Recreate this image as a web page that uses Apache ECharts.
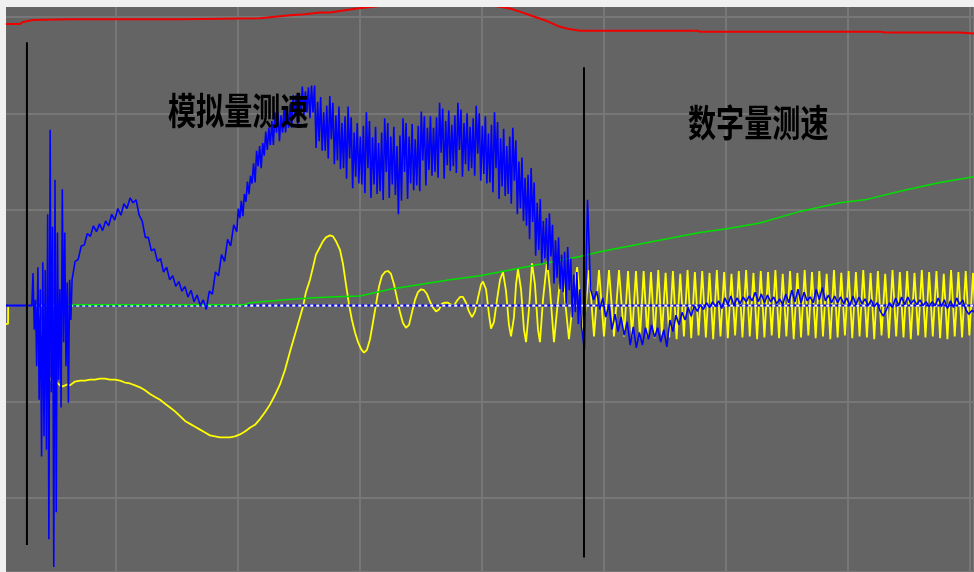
<!DOCTYPE html>
<html>
<head>
    <meta charset="utf-8">
    <style type="text/css">
        html,body { margin: 0px; padding: 0px; background: #f0f0f0; overflow: hidden; }
        #canvas { width: 974px; height: 572px; }
    </style>
    <script src="https://cdn.jsdelivr.net/npm/echarts@6/dist/echarts.min.js"></script>
</head>
<body>
    <div id="canvas"></div>
    <script type="text/javascript">
        // 波形数据 x: 采样时间(每格100)  y: 幅值(每格100)
        var blueIdle = [[0, 0], [31, 0]];
        var blueBurstStart = 32, blueBurstStep = 1;
        var blueBurst = [34, -25, 6, -63, 40, -98, 17, -157, 45, -136, 37, -150, 95, -243, 183, -90,
            82, -272, 131, -215, 76, -77, 17, -106, 121, -38, 76, -63, 24, -101, 27, -15];
        var blueHumpStart = 64, blueHumpStep = 2.5;
        var blueHump = [27, 46, 48, 62, 63, 75, 72, 83, 77, 85, 78, 88, 83, 95, 89, 101, 94, 106, 101, 112,
            107, 110, 94, 88, 71, 71, 57, 59, 46, 49, 35, 40, 27, 31, 20, 25, 15, 20, 9, 16,
            4, 11, 0, 6, -4, 15, 12, 35, 31, 53, 46, 69, 62, 84, 77];
        var blueBandStart = 200.25, blueBandStep = 1.25;
        var blueBand = [
            101, 91, 109, 93, 116, 108, 129, 116, 135, 127,
            148, 128, 161, 145, 166, 143, 169, 156, 181, 162,
            185, 167, 192, 167, 201, 180, 201, 171, 198, 180,
            206, 180, 203, 185, 210, 185, 219, 199, 219, 189,
            221, 200, 228, 198, 223, 201, 227, 195, 229, 201,
            229, 164, 212, 171, 217, 161, 201, 161, 208, 153,
            218, 173, 211, 147, 198, 151, 207, 142, 190, 143,
            197, 132, 207, 153, 196, 122, 180, 134, 190, 127,
            176, 126, 187, 117, 201, 143, 192, 112, 175, 126,
            186, 116, 169, 119, 180, 110, 195, 139, 190, 112,
            176, 126, 186, 115, 166, 95, 177, 109, 195, 139,
            190, 111, 176, 127, 189, 120, 173, 125, 187, 119,
            202, 151, 197, 125, 185, 141, 197, 135, 185, 139,
            196, 133, 211, 159, 205, 132, 192, 146, 203, 140,
            188, 145, 198, 138, 211, 162, 204, 134, 190, 147,
            200, 140, 186, 143, 195, 135, 208, 158, 200, 130,
            187, 137, 197, 127, 179, 128, 188, 118, 201, 143,
            191, 111, 174, 124, 184, 114, 166, 116, 176, 106,
            185, 130, 172, 95, 150, 101, 154, 88, 133, 83,
            136, 69, 143, 87, 128, 52, 107, 58, 111, 44,
            88, 49, 91, 37, 96, 51, 84, 23, 68, 29,
            71, 17, 53, 14, 56, 2, 61, 16, 49, -12,
            32, -7, 35, -19, 17, -22];
        var blueDigitalStart = 484, blueDigitalStep = 2.5;
        var blueDigital = [-46, 110,
            17, 6, 15, -4, 8, -12, 1, -25, -9, -27,
            -12, -31, -17, -41, -22, -44, -28, -41, -23, -35,
            -20, -33, -23, -38, -25, -43, -15, -27, -10, -20,
            -7, -15, -2, -11, 0, -6, 1, -4, 3, -2,
            4, -1, 5, -3, 8, 1, 10, 0, 8, 2,
            9, 4, 10, 5, 14, 4, 12, 3, 11, 4,
            9, 2, 7, 1, 12, 3, 16, 4, 17, 3,
            14, 5, 9, 3, 17, 6, 19, 5, 11, 3,
            10, 3, 9, 2, 8, 0, 10, 1, 9, 2,
            7, 0, 6, -1, 3, -6, -11, -4, 3, -2,
            8, 0, 9, 1, 9, 2, 6, 1, 6, 0,
            4, -1, 4, 0, 8, -1, 6, -3, 5, -2,
            8, 1, 6, -4, -9, -5, -7];

        var yellowSlow = [[0, -19], [11.5, -19], [11.6, 0], [36.1, 0], [37.7, -11], [39.3, -37], [41, -27],
            [42.6, -64], [44.3, -87], [45.9, -75], [48.4, -81], [51.6, -80], [54.1, -83], [56.6, -84],
            [59.8, -82], [62.3, -83], [66.4, -79], [70.5, -78], [74.6, -78], [78.7, -77], [82.8, -77],
            [86.9, -76], [91, -76], [95.1, -77], [99.2, -77], [103.3, -78], [107.4, -80], [111.5, -81],
            [115.6, -83], [119.7, -85], [123.8, -88], [127.9, -92], [132, -95], [136.1, -98], [140.2, -102],
            [144.3, -106], [148.4, -110], [152.5, -115], [156.6, -120], [160.7, -123], [164.8, -126],
            [168.9, -129], [173, -132], [177, -135], [181.1, -136], [185.2, -137], [189.3, -137],
            [193.4, -137], [197.5, -136], [201.6, -134], [205.7, -131], [209.8, -127], [213.9, -124],
            [218, -118], [222.1, -111], [226.2, -103], [230.3, -93], [234.4, -82], [238.5, -67],
            [242.6, -48], [246.7, -30], [250.8, -12], [253.3, -1], [255.7, 14], [259, 27], [261.5, 40],
            [263.9, 53], [267.2, 61], [269.7, 67], [272.1, 71], [275.4, 73], [277.9, 72], [280.3, 67],
            [283.6, 58], [286.1, 43], [288.5, 22], [291, 1], [293.4, -15], [295.9, -28], [298.4, -38],
            [300.8, -45], [303.3, -49], [305.7, -46], [308.2, -35], [310.7, -17], [313.1, 1], [315.6, 20],
            [318, 31], [320.5, 35], [323, 36], [325.4, 33], [327.9, 22], [330.3, 8], [332.8, -7],
            [335.2, -18], [337.7, -23], [340.2, -20], [342.6, -7], [345.1, 6], [347.5, 14], [350, 17],
            [352.5, 16], [354.9, 12], [357.4, 4], [359.8, -2], [362.3, -6], [364.8, -4], [367.2, 2],
            [369.7, 3], [372.1, 3], [374.6, 1], [377, 0], [379.5, 5], [382, 9], [384.4, 9], [386.9, 3],
            [389.3, -6], [391.8, -12], [394.3, -6], [396.7, 8], [399.2, 22], [400.8, 25], [403.3, 17],
            [405.7, -9], [407.4, -24], [409.8, -17], [412.3, 6], [414.8, 27], [417.2, 35], [419.7, 15],
            [422.1, -20], [423.8, -32], [426.2, -12], [427.9, 22], [429.5, 38], [432, 17], [434.4, -25],
            [436.1, -38], [438.5, -4], [441, 44], [443.4, 22], [445.9, -25], [447.5, -38], [450, 6],
            [453.3, 46], [455.7, 17], [459, -38], [462.3, 6], [465.6, 45], [468, 6], [471.3, -35],
            [474.6, 6], [478, 40], [480.3, 6], [482.8, -33], [487.7, 37], [491.8, -32], [495.9, 37],
            [500, -32], [504.1, 37], [508.2, -32], [512.3, 37], [516.4, -32], [519.7, 36], [523, -32],
            [526.2, 36]];
        var yellowFastStart = 529.5, yellowFastStep = 3;
        var yellowFast = [
            -33, 36, -32, 35, -34, 37, -31, 34, -33, 36,
            -35, 33, -32, 37, -34, 35, -31, 36, -33, 34,
            -35, 37, -32, 35, -34, 33, -31, 36, -33, 37,
            -32, 34, -35, 36, -33, 35, -31, 37, -34, 33,
            -32, 36, -35, 34, -33, 37, -31, 35, -34, 36,
            -32, 33, -35, 37, -33, 34, -31, 36, -34, 35,
            -32, 37, -33, 34, -35, 36, -31, 33, -34, 37,
            -32, 35, -33, 36, -35, 34, -31, 37, -33, 35,
            -32, 36, -34, 33, -35, 37, -32, 35, -33, 36,
            -31, 34, -34];

        var greenRamp = [[54.1, 1], [205.7, 1], [209.8, 3], [238.5, 6], [259, 8], [275.4, 9], [300, 10],
            [324.6, 17], [349.2, 22], [373.8, 27], [398.4, 31], [423, 37], [447.5, 43], [480.3, 51],
            [496.7, 56], [529.5, 64], [578.7, 76], [600.8, 80], [627.9, 86], [660.7, 98], [693.4, 107],
            [713.9, 110], [742.6, 119], [775.4, 128], [803.3, 134]];

        var redLevel = [[0, 293], [21.3, 293], [23.8, 295], [32, 297], [62.3, 298], [152.5, 298],
            [218, 299], [242.6, 302], [254.9, 303], [267.2, 305], [275.4, 305], [297.5, 309],
            [310.7, 311], [324.6, 313], [365.6, 318], [398.4, 314], [413.1, 311], [423, 309],
            [432.8, 305], [441.8, 301], [453.3, 296], [463.9, 290], [470.5, 288], [480.3, 286],
            [545.9, 286], [576.2, 286], [578.7, 285], [611.5, 285], [726.2, 285], [730.3, 284],
            [791.8, 284], [803.3, 283]];

        var cursorA = [[27, 274], [27, -249]];
        var cursorB = [[483.6, 248], [483.6, -262]];
        var zeroLine = [[0, 0], [803.3, 0]];
        var zeroDash = [[33, 0], [803.3, 0]];
        var noteText = ['模拟量测速', '数字量测速'];

        function sampled(start, step, values) {
            return values.map(function (v, i) { return [start + i * step, v]; });
        }

        var blueData = blueIdle
            .concat(sampled(blueBurstStart, blueBurstStep, blueBurst))
            .concat(sampled(blueHumpStart, blueHumpStep, blueHump))
            .concat(sampled(blueBandStart, blueBandStep, blueBand))
            .concat(sampled(blueDigitalStart, blueDigitalStep, blueDigital));
        var yellowData = yellowSlow.concat(sampled(yellowFastStart, yellowFastStep, yellowFast));

        function trace(data, color, width, z, dash) {
            return {
                type: 'line', data: data, showSymbol: false, symbol: 'none', silent: true, z: z,
                lineStyle: { color: color, width: width, type: dash || 'solid' }
            };
        }

        function note(text, x, y) {
            return {
                type: 'text', x: x, y: y, z: 50, scaleX: 0.76,
                style: { text: text, fill: '#000', fontSize: 37, fontWeight: 'bold',
                         fontFamily: 'Noto Sans CJK SC', verticalAlign: 'top' }
            };
        }

        var myChart = echarts.init(document.getElementById('canvas'));
        var gridLine = { show: true, lineStyle: { color: '#777777', width: 2 } };
        var hidden = { show: false };
        var option = {
            animation: false,
            grid: {
                left: 0, right: 0, top: 0, bottom: 0,
                show: true, backgroundColor: '#646464', borderWidth: 0
            },
            xAxis: {
                type: 'value', min: 4.918, max: 803.28, minInterval: 100, maxInterval: 100,
                axisLine: hidden, axisTick: hidden, axisLabel: hidden, splitLine: gridLine
            },
            yAxis: {
                type: 'value', min: -277.1, max: 317.9, minInterval: 100, maxInterval: 100,
                axisLine: hidden, axisTick: hidden, axisLabel: hidden, splitLine: gridLine
            },
            series: [
                trace(yellowData, '#ffff00', 1.8, 2),
                trace(zeroLine, '#0000ff', 2, 3),
                trace(zeroDash, '#ffffff', 2, 3, [3, 3]),
                trace(greenRamp, '#00e000', 1.5, 4),
                trace(blueData, '#0000ff', 1.6, 5),
                trace(redLevel, '#ee0000', 2, 5),
                trace(cursorA, '#000000', 2, 6),
                trace(cursorB, '#000000', 2, 6)
            ],
            graphic: [
                note(noteText[0], 168, 92),
                note(noteText[1], 688, 104),
                { type: 'rect', z: 100, shape: { x: 0, y: 0, width: 974, height: 7 }, style: { fill: '#f0f0f0' } },
                { type: 'rect', z: 100, shape: { x: 0, y: 0, width: 6, height: 572 }, style: { fill: '#f0f0f0' } }
            ]
        };
        myChart.setOption(option);
        window.onresize = myChart.resize;
    </script>
</body>
</html>
